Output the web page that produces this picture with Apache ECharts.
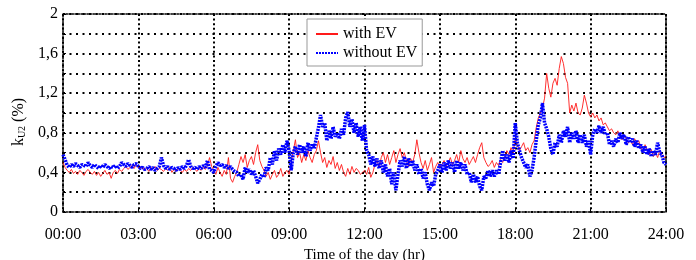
<!DOCTYPE html>
<html>
<head>
<meta charset="utf-8">
<script src="https://cdn.jsdelivr.net/npm/echarts@6/dist/echarts.min.js"></script>
<style>
  html, body { margin: 0; padding: 0; background: #fff; }
  #chart { width: 696px; height: 260px; }
</style>
</head>
<body>
<div id="chart"></div>
<script>
// one sample every 5 minutes, 00:00 .. 24:00
var stepHours = 5 / 60;

var withEV = [
  0.50, 0.45, 0.42, 0.40, 0.43, 0.39, 0.41, 0.38, 0.42, 0.40, 0.37, 0.41, // 00
  0.43, 0.40, 0.38, 0.41, 0.37, 0.40, 0.36, 0.39, 0.42, 0.38, 0.40, 0.34, // 01
  0.40, 0.42, 0.39, 0.43, 0.41, 0.44, 0.46, 0.43, 0.45, 0.47, 0.44, 0.48, // 02
  0.45, 0.43, 0.46, 0.42, 0.44, 0.41, 0.45, 0.43, 0.46, 0.42, 0.44, 0.43, // 03
  0.41, 0.44, 0.42, 0.45, 0.40, 0.43, 0.41, 0.44, 0.42, 0.40, 0.43, 0.41, // 04
  0.44, 0.42, 0.45, 0.43, 0.41, 0.44, 0.42, 0.45, 0.43, 0.47, 0.55, 0.46, // 05
  0.42, 0.38, 0.45, 0.40, 0.36, 0.42, 0.38, 0.55, 0.34, 0.30, 0.36, 0.40, // 06
  0.48, 0.56, 0.50, 0.58, 0.45, 0.52, 0.56, 0.48, 0.60, 0.68, 0.52, 0.46, // 07
  0.42, 0.36, 0.40, 0.33, 0.38, 0.42, 0.35, 0.38, 0.44, 0.36, 0.40, 0.42, // 08
  0.38, 0.50, 0.62, 0.73, 0.55, 0.60, 0.50, 0.58, 0.52, 0.62, 0.55, 0.50, // 09
  0.58, 0.62, 0.72, 0.60, 0.50, 0.55, 0.45, 0.52, 0.48, 0.56, 0.44, 0.50, // 10
  0.42, 0.48, 0.40, 0.36, 0.44, 0.38, 0.46, 0.40, 0.44, 0.42, 0.38, 0.40, // 11
  0.42, 0.38, 0.45, 0.35, 0.40, 0.48, 0.52, 0.45, 0.55, 0.60, 0.50, 0.58, // 12
  0.48, 0.55, 0.62, 0.50, 0.58, 0.64, 0.55, 0.60, 0.52, 0.46, 0.54, 0.50, // 13
  0.58, 0.73, 0.60, 0.50, 0.44, 0.52, 0.42, 0.48, 0.55, 0.40, 0.46, 0.50, // 14
  0.45, 0.48, 0.52, 0.46, 0.50, 0.55, 0.48, 0.52, 0.58, 0.50, 0.62, 0.54, // 15
  0.50, 0.55, 0.48, 0.52, 0.56, 0.50, 0.58, 0.65, 0.70, 0.55, 0.50, 0.46, // 16
  0.48, 0.52, 0.45, 0.50, 0.47, 0.53, 0.50, 0.56, 0.62, 0.58, 0.65, 0.60, // 17
  0.75, 0.68, 0.62, 0.66, 0.70, 0.62, 0.65, 0.60, 0.68, 0.72, 0.85, 0.95, // 18
  1.00, 1.05, 1.15, 1.40, 1.25, 1.16, 1.30, 1.35, 1.28, 1.45, 1.57, 1.50, // 19
  1.36, 1.30, 1.00, 1.08, 1.02, 1.10, 1.00, 0.98, 1.05, 1.18, 1.10, 1.00, // 20
  0.96, 1.00, 0.95, 0.98, 0.92, 0.95, 0.88, 0.90, 0.86, 0.82, 0.84, 0.80, // 21
  0.78, 0.82, 0.76, 0.73, 0.78, 0.74, 0.70, 0.72, 0.68, 0.74, 0.70, 0.72, // 22
  0.65, 0.60, 0.68, 0.62, 0.58, 0.63, 0.56, 0.60, 0.55, 0.62, 0.58, 0.55, // 23
  0.56
];

var withoutEV = [
  0.58, 0.53, 0.47, 0.45, 0.48, 0.46, 0.49, 0.47, 0.45, 0.48, 0.47, 0.46, // 00
  0.50, 0.47, 0.45, 0.48, 0.46, 0.44, 0.47, 0.45, 0.48, 0.46, 0.44, 0.46, // 01
  0.45, 0.47, 0.44, 0.46, 0.50, 0.48, 0.46, 0.49, 0.47, 0.45, 0.48, 0.49, // 02
  0.46, 0.44, 0.45, 0.43, 0.44, 0.46, 0.43, 0.45, 0.42, 0.44, 0.46, 0.55, // 03
  0.47, 0.44, 0.46, 0.43, 0.45, 0.44, 0.42, 0.45, 0.43, 0.46, 0.44, 0.47, // 04
  0.53, 0.46, 0.44, 0.45, 0.43, 0.46, 0.44, 0.47, 0.45, 0.52, 0.43, 0.42, // 05
  0.40, 0.46, 0.50, 0.47, 0.48, 0.45, 0.47, 0.44, 0.46, 0.43, 0.41, 0.40, // 06
  0.36, 0.38, 0.33, 0.45, 0.40, 0.43, 0.38, 0.42, 0.36, 0.29, 0.33, 0.38, // 07
  0.35, 0.45, 0.42, 0.55, 0.48, 0.62, 0.52, 0.64, 0.58, 0.68, 0.60, 0.72, // 08
  0.62, 0.42, 0.60, 0.66, 0.58, 0.68, 0.60, 0.66, 0.56, 0.70, 0.62, 0.68, // 09
  0.64, 0.75, 0.85, 0.98, 0.86, 0.90, 0.72, 0.82, 0.74, 0.86, 0.76, 0.80, // 10
  0.74, 0.84, 0.78, 0.95, 1.01, 0.86, 0.94, 0.80, 0.90, 0.76, 0.86, 0.72, // 11
  0.88, 0.62, 0.58, 0.48, 0.56, 0.46, 0.54, 0.44, 0.52, 0.40, 0.48, 0.36, // 12
  0.44, 0.28, 0.40, 0.22, 0.38, 0.52, 0.46, 0.56, 0.44, 0.54, 0.46, 0.52, // 13
  0.42, 0.48, 0.38, 0.44, 0.34, 0.40, 0.28, 0.22, 0.30, 0.26, 0.38, 0.42, // 14
  0.48, 0.40, 0.50, 0.42, 0.52, 0.44, 0.50, 0.40, 0.52, 0.44, 0.50, 0.42, // 15
  0.48, 0.38, 0.40, 0.30, 0.38, 0.30, 0.36, 0.26, 0.22, 0.36, 0.34, 0.42, // 16
  0.36, 0.42, 0.36, 0.42, 0.38, 0.50, 0.62, 0.52, 0.58, 0.50, 0.62, 0.54, // 17
  0.90, 0.70, 0.62, 0.55, 0.50, 0.45, 0.48, 0.36, 0.42, 0.55, 0.72, 0.88, // 18
  0.95, 1.10, 0.90, 0.84, 0.76, 0.64, 0.58, 0.70, 0.66, 0.78, 0.70, 0.82, // 19
  0.76, 0.86, 0.70, 0.80, 0.74, 0.82, 0.70, 0.78, 0.70, 0.78, 0.66, 0.72, // 20
  0.58, 0.78, 0.84, 0.80, 0.87, 0.80, 0.86, 0.78, 0.80, 0.68, 0.72, 0.66, // 21
  0.74, 0.70, 0.80, 0.74, 0.78, 0.68, 0.76, 0.70, 0.74, 0.66, 0.72, 0.64, // 22
  0.68, 0.60, 0.66, 0.58, 0.64, 0.56, 0.62, 0.58, 0.70, 0.60, 0.58, 0.50, // 23
  0.48
];

var seriesNames = ['with EV', 'without EV'];

function toPoints(arr) {
  return arr.map(function (v, i) { return [i * stepHours, v]; });
}

var font = "'Liberation Serif', 'Times New Roman', serif";
var frame = { show: true, onZero: false, lineStyle: { color: '#000', width: 1.5, type: [1.5, 1.5] } };

var chart = echarts.init(document.getElementById('chart'));
chart.setOption({
  animation: false,
  textStyle: { fontFamily: font },
  grid: { left: 63, right: 30, top: 14, bottom: 48, outerBoundsMode: 'none' },
  legend: {
    orient: 'vertical',
    left: 307,
    top: 19,
    data: seriesNames,
    padding: [7, 5, 5, 8],
    itemGap: 3,
    itemWidth: 22,
    itemHeight: 14,
    itemStyle: { opacity: 0 },
    borderColor: '#999',
    borderWidth: 1,
    backgroundColor: '#fff',
    textStyle: { fontFamily: font, fontSize: 16, color: '#000' }
  },
  xAxis: [{
    type: 'value',
    min: 0,
    max: 24,
    interval: 3,
    name: 'Time of the day (hr)',
    nameLocation: 'middle',
    nameGap: 31,
    nameTextStyle: { fontFamily: font, fontSize: 15, color: '#000' },
    axisLine: frame,
    axisTick: { show: true, inside: true, length: 3, lineStyle: { color: '#000' } },
    axisLabel: {
      margin: 15,
      fontFamily: font, fontSize: 16, color: '#000',
      formatter: function (v) { return (v < 10 ? '0' : '') + v + ':00'; }
    },
    splitLine: { show: true, lineStyle: { color: '#000', width: 2, type: [2, 2.6] } }
  }, {
    type: 'value', position: 'top', min: 0, max: 24, interval: 3,
    axisLine: frame, axisTick: { show: false }, axisLabel: { show: false }, splitLine: { show: false }
  }],
  yAxis: [{
    type: 'value',
    min: 0,
    max: 2,
    interval: 0.2,
    name: '{k|k}{sub|U2}{k| (%)}',
    nameLocation: 'middle',
    nameGap: 29,
    nameTextStyle: {
      color: '#000',
      padding: [0, 18, 0, 0],
      rich: {
        k: { fontFamily: font, fontSize: 16, color: '#000' },
        sub: { fontFamily: font, fontSize: 10, color: '#000', verticalAlign: 'bottom', padding: [6, 0, 0, 0] }
      }
    },
    axisLine: frame,
    axisTick: { show: true, inside: true, length: 3, lineStyle: { color: '#000' } },
    axisLabel: {
      margin: 5,
      fontFamily: font, fontSize: 16, color: '#000',
      formatter: function (v) {
        return Math.round(v * 10) % 4 === 0 ? String(+v.toFixed(1)).replace('.', ',') : '';
      }
    },
    splitLine: { show: true, lineStyle: { color: '#000', width: 2, type: [2, 4.5] } }
  }, {
    type: 'value', position: 'right', min: 0, max: 2, interval: 0.2,
    axisLine: frame, axisTick: { show: false }, axisLabel: { show: false }, splitLine: { show: false }
  }],
  series: [{
    name: seriesNames[0],
    type: 'line',
    symbol: 'none',
    data: toPoints(withEV),
    lineStyle: { color: '#ff1a1a', width: 0.9 },
    itemStyle: { color: '#ff1a1a' },
    z: 3
  }, {
    name: seriesNames[1],
    type: 'line',
    symbol: 'none',
    data: toPoints(withoutEV),
    lineStyle: { color: '#0000ff', width: 3.5, type: [2, 1] },
    itemStyle: { color: '#0000ff' },
    z: 4
  }]
});
</script>
</body>
</html>
